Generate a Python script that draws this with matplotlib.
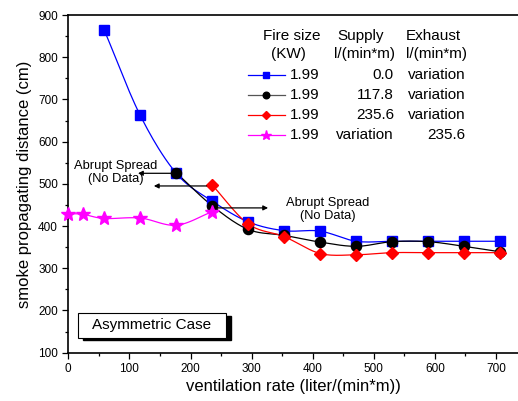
import numpy as np
import matplotlib.pyplot as plt
from matplotlib.patches import Rectangle

plt.rcParams['font.family'] = ['Liberation Sans', 'DejaVu Sans']

# data
rate = [58.9, 117.8, 176.7, 235.6, 294.5, 353.4, 412.3, 471.2, 530.1, 589.0, 647.9, 706.8]
supply0 = [864, 662, 525, 459, 410, 389, 388, 364, 364, 364, 364, 364]
rate_b = [176.7, 235.6, 294.5, 353.4, 412.3, 471.2, 530.1, 589.0, 647.9, 706.8]
supply118 = [526, 448, 392, 378, 362, 352, 363, 363, 352, 339]
rate_r = [235.6, 294.5, 353.4, 412.3, 471.2, 530.1, 589.0, 647.9, 706.8]
supply236 = [497, 405, 375, 335, 332, 337, 337, 337, 337]
rate_m = [0, 23.56, 58.9, 117.8, 176.7, 235.6]
exhaust236 = [429, 428, 418, 419, 402, 434]

fire = ['1.99', '1.99', '1.99', '1.99']
supply_lbl = ['0.0', '117.8', '235.6', 'variation']
exhaust_lbl = ['variation', 'variation', 'variation', '235.6']


def smooth(x, y, n=20):
    # catmull-rom curve through the points, only for drawing the line
    x = np.asarray(x, float)
    y = np.asarray(y, float)
    px = np.concatenate([[2*x[0]-x[1]], x, [2*x[-1]-x[-2]]])
    py = np.concatenate([[2*y[0]-y[1]], y, [2*y[-1]-y[-2]]])
    xs, ys = [], []
    t = np.linspace(0, 1, n, endpoint=False)
    for i in range(1, len(px)-2):
        for p, out in ((px, xs), (py, ys)):
            p0, p1, p2, p3 = p[i-1], p[i], p[i+1], p[i+2]
            out.extend(0.5*((2*p1) + (-p0+p2)*t + (2*p0-5*p1+4*p2-p3)*t**2
                            + (-p0+3*p1-3*p2+p3)*t**3))
    xs.append(x[-1])
    ys.append(y[-1])
    return xs, ys


fig = plt.figure(figsize=(5.18, 4.01), dpi=100)
ax = fig.add_axes([68.3/518, 48.3/401, (518-68.3)/518, 337.7/401])

series = [
    (rate, supply0, 'blue', 's', 7.0),
    (rate_b, supply118, 'black', 'o', 7.3),
    (rate_r, supply236, 'red', 'D', 6.5),
    (rate_m, exhaust236, 'magenta', '*', 10.5),
]
for x, y, c, m, ms in series:
    sx, sy = smooth(x, y)
    ax.plot(sx, sy, '-', color=c, lw=0.9, zorder=2)
    ax.plot(x, y, ls='none', marker=m, color=c, ms=ms, zorder=3, clip_on=False)

ax.set_xlim(0, 736)
ax.set_ylim(100, 900)
ax.set_xticks(np.arange(0, 701, 100))
ax.set_xticks(np.arange(0, 736, 50), minor=True)
ax.set_yticks(np.arange(100, 901, 100))
ax.set_yticks(np.arange(100, 901, 50), minor=True)
ax.tick_params(which='major', direction='out', length=4, width=0.9, labelsize=8.5,
               top=False, right=False)
ax.tick_params(which='minor', direction='out', length=2.5, width=0.9, top=False, right=False)
for s in ax.spines.values():
    s.set_linewidth(1.2)
ax.spines['right'].set_visible(False)
ax.set_xlabel('ventilation rate (liter/(min*m))', fontsize=12, labelpad=3)
ax.set_ylabel('smoke propagating distance (cm)', fontsize=12, labelpad=4)

# annotations
arr = dict(arrowstyle='-|>', color='black', lw=0.9, mutation_scale=7, shrinkA=4, shrinkB=0)
ax.annotate('', xy=(114, 525), xytext=(176.7, 525), arrowprops=arr)
ax.annotate('', xy=(140, 495), xytext=(235.6, 495), arrowprops=arr)
ax.annotate('', xy=(327, 443), xytext=(235.6, 443), arrowprops=arr)
ax.text(77, 527, 'Abrupt Spread\n(No Data)', ha='center', va='center', fontsize=9.3,
        linespacing=1.1)
ax.text(424, 440, 'Abrupt Spread\n(No Data)', ha='center', va='center', fontsize=9.3,
        linespacing=1.1)

# boxed label with shadow
ax.add_patch(Rectangle((24, 129), 242, 59, facecolor='black', edgecolor='black', zorder=4))
ax.add_patch(Rectangle((16, 135), 242, 59, facecolor='white', edgecolor='black', lw=0.8, zorder=5))
ax.text(137, 164.5, 'Asymmetric Case', ha='center', va='center', fontsize=11, zorder=6)

# legend table
fs = 11
ax.text(365, 851, 'Fire size', ha='center', va='center', fontsize=fs)
ax.text(360, 808, '(KW)', ha='center', va='center', fontsize=fs)
ax.text(479, 851, 'Supply', ha='center', va='center', fontsize=fs)
ax.text(485, 808, 'l/(min*m)', ha='center', va='center', fontsize=fs)
ax.text(597, 851, 'Exhaust', ha='center', va='center', fontsize=fs)
ax.text(602, 808, 'l/(min*m)', ha='center', va='center', fontsize=fs)
rows_y = [758, 711, 663, 616]
for i, (x, y, c, m, ms) in enumerate(series):
    ry = rows_y[i]
    lc = '#555555' if c == 'black' else c
    ax.plot([294, 354], [ry, ry], '-', color=lc, lw=0.9)
    ax.plot([324], [ry], ls='none', marker=m, color=c, ms=ms*0.65)
    ax.text(411, ry, fire[i], ha='right', va='center', fontsize=fs)
    ax.text(533, ry, supply_lbl[i], ha='right', va='center', fontsize=fs)
    ax.text(650, ry, exhaust_lbl[i], ha='right', va='center', fontsize=fs)

fig.savefig('out.png', dpi=100)
